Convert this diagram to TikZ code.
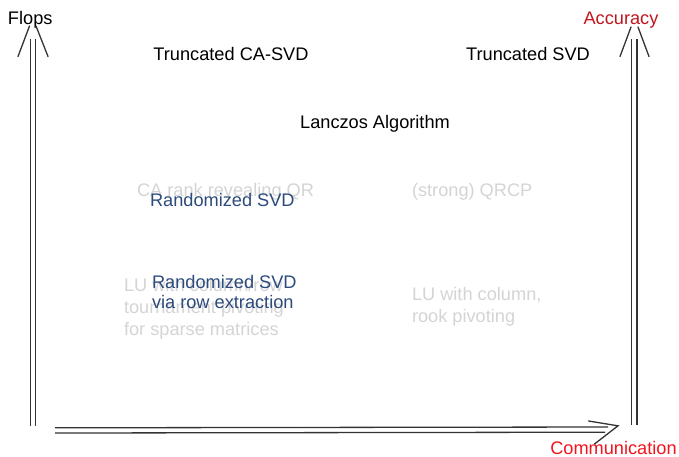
\documentclass[tikz,border=0pt]{standalone}
\usepackage{fontspec}
\setmainfont{Liberation Sans}
\definecolor{ghostgray}{HTML}{D4D4D4}
\definecolor{navytext}{HTML}{2C4A7C}
\definecolor{accred}{HTML}{C0161F}
\definecolor{comred}{HTML}{F2141E}
\definecolor{axisline}{HTML}{333333}
\begin{document}
\begin{tikzpicture}[x=1pt,y=-1pt,
  lbl/.style={font=\fontsize{18.2}{22}\selectfont, inner sep=0pt, outer sep=0pt},
  plain/.style={lbl, text=black},
  ghost/.style={lbl, text=ghostgray},
  navy/.style={lbl, text=navytext},
  axis/.style={draw=axisline, line width=1.3pt},
  head/.style={draw=axisline, line width=1.3pt, line cap=round}]
\useasboundingbox (0,0) rectangle (679,456);

% axis labels
\node[plain, anchor=base west] (flops) at (8,24) {Flops};
\node[lbl, text=accred, anchor=base] (acc) at (621,24) {Accuracy};
\node[lbl, text=comred, anchor=base] (comm) at (613.5,454) {Communication};

% ghost texts
\node[ghost, anchor=base west] (carrqr) at (137,196.5) {CA rank revealing QR};
\node[ghost, anchor=base west] (qrcp) at (412,196.5) {(strong) QRCP};
\node[ghost, anchor=base west] (lut1) at (124,291) {LU with column/row};
\node[ghost, anchor=base west] (lut2) at (124,313) {tournament pivoting};
\node[ghost, anchor=base west] (lut3) at (124,335) {for sparse matrices};
\node[ghost, anchor=base west] (luc1) at (412,300) {LU with column,};
\node[ghost, anchor=base west] (luc2) at (412,322) {rook pivoting};

% main texts
\node[plain, anchor=base] (tcasvd) at (231,60) {Truncated CA-SVD};
\node[plain, anchor=base] (tsvd) at (528,60) {Truncated SVD};
\node[plain, anchor=base] (lanczos) at (375,128.5) {Lanczos Algorithm};
\node[navy, anchor=base west] (rsvd) at (150,206) {Randomized SVD};
\node[navy, anchor=base west] (rsvdr1) at (152,288.5) {Randomized SVD};
\node[navy, anchor=base west] (rsvdr2) at (152,308) {via row extraction};

% left vertical axis (Flops)
\coordinate (lvA1) at (30.5,39);  \coordinate (lvA2) at (30.5,425.5);
\coordinate (lvB1) at (35.5,39);  \coordinate (lvB2) at (35.5,425.5);
\coordinate (lhL1) at (29.5,26);  \coordinate (lhL2) at (18,56.5);
\coordinate (lhR1) at (36,26);    \coordinate (lhR2) at (48,56.5);
\draw[axis] (lvA1) -- (lvA2);
\draw[axis] (lvB1) -- (lvB2);
\draw[head] (lhL1) -- (lhL2);
\draw[head] (lhR1) -- (lhR2);

% right vertical axis (Accuracy)
\coordinate (rvA1) at (631.5,39); \coordinate (rvA2) at (631.5,425);
\coordinate (rvB1) at (637,39);   \coordinate (rvB2) at (637,425);
\coordinate (rhL1) at (631,27);   \coordinate (rhL2) at (620,56.5);
\coordinate (rhR1) at (638,27);   \coordinate (rhR2) at (649,56.5);
\draw[axis] (rvA1) -- (rvA2);
\draw[axis] (rvB1) -- (rvB2);
\draw[head] (rhL1) -- (rhL2);
\draw[head] (rhR1) -- (rhR2);

% bottom horizontal axis (Communication)
\coordinate (hA1) at (55,427.8);  \coordinate (hA2) at (608,427);
\coordinate (hB1) at (55,433);    \coordinate (hB2) at (605,432.2);
\coordinate (hhU1) at (588.5,421); \coordinate (hhT) at (618,425.8);
\coordinate (hhL2) at (594.5,444);
\draw[axis] (hA1) -- (hA2);
\draw[axis] (hB1) -- (hB2);
\draw[head] (hhU1) -- (hhT) -- (hhL2);
\end{tikzpicture}
\end{document}
